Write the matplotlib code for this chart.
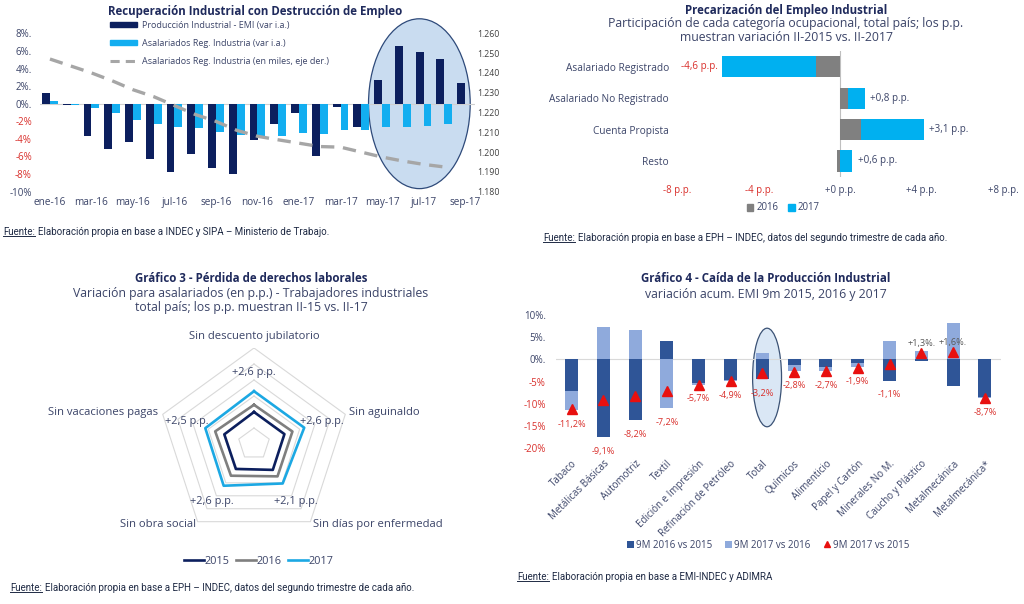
import matplotlib.pyplot as plt
from matplotlib.patches import Ellipse, Patch
from matplotlib.lines import Line2D
from matplotlib.transforms import IdentityTransform
import numpy as np

plt.rcParams['font.family'] = ['Open Sans', 'DejaVu Sans']

W, H = 1024, 604
TITLE = '#1f2a5c'
TXT = '#3b4468'
RED = '#d9302c'

# ---- Grafico 1: EMI vs asalariados registrados
meses = ['ene-16', 'feb-16', 'mar-16', 'abr-16', 'may-16', 'jun-16', 'jul-16',
         'ago-16', 'sep-16', 'oct-16', 'nov-16', 'dic-16', 'ene-17', 'feb-17',
         'mar-17', 'abr-17', 'may-17', 'jun-17', 'jul-17', 'ago-17', 'sep-17']
emi_var = [1.2, -0.1, -3.7, -5.1, -4.4, -6.3, -7.8, -5.7, -7.3, -8.0, -4.1,
           -2.3, -1.1, -5.95, -0.4, -2.6, 2.7, 6.6, 5.9, 5.1, 2.3]
asal_var = [0.3, -0.2, -0.45, -1.1, -1.8, -2.3, -2.6, -2.8, -3.2, -3.6, -3.7,
            -3.7, -3.3, -3.4, -3.0, -3.0, -2.7, -2.6, -2.5, -2.3, np.nan]
asal_miles = [1.247, 1.2435, 1.240, 1.236, 1.2315, 1.228, 1.2235, 1.219, 1.2155,
              1.211, 1.208, 1.2062, 1.2045, 1.2028, 1.2025, 1.200, 1.1975,
              1.1955, 1.1938, 1.1925, np.nan]

# ---- Grafico 2: precarizacion
categorias_ocup = ['Asalariado Registrado', 'Asalariado No Registrado',
                   'Cuenta Propista', 'Resto']
pp_2016 = [-1.2, 0.4, 1.0, -0.15]
pp_2017 = [-4.6, 0.8, 3.1, 0.6]

# ---- Grafico 3: derechos laborales
derechos = ['Sin descuento jubilatorio', 'Sin aguinaldo', 'Sin días por enfermedad',
            'Sin obra social', 'Sin vacaciones pagas']
der_2015 = [4.0, 4.0, 4.0, 3.85, 3.9]
der_2016 = [4.9, 5.05, 5.0, 4.9, 5.1]
der_2017 = [6.6, 6.6, 6.1, 6.45, 6.4]

# ---- Grafico 4: produccion industrial
ramas = ['Tabaco', 'Metálicas Básicas', 'Automotriz', 'Textil', 'Edición e Impresión',
         'Refinación de Petróleo', 'Total', 'Químicos', 'Alimenticio', 'Papel y Cartón',
         'Minerales No M.', 'Caucho y Plástico', 'Metalmecánica', 'Metalmecánica*']
emi_16_15 = [-7.2, -17.4, -13.6, 4.1, -5.4, -4.7, -4.5, -1.2, -1.7, -0.75, -4.8, -0.45, -6.0, -8.4]
emi_17_16 = [-4.2, 7.2, 6.5, -10.9, -0.3, -0.2, 1.5, -1.5, -1.0, -0.95, 4.0, 1.8, 8.2, -0.3]
emi_17_15 = [-11.2, -9.1, -8.2, -7.2, -5.7, -4.9, -3.2, -2.8, -2.7, -1.9, -1.1, 1.3, 1.6, -8.7]

fig = plt.figure(figsize=(W / 100, H / 100), dpi=100)
bg = fig.add_axes([0, 0, 1, 1])
bg.axis('off')


def px_box(x0, y0, x1, y1):
    return [x0 / W, 1 - y1 / H, (x1 - x0) / W, (y1 - y0) / H]


def px(x, y):
    return x / W, 1 - y / H


def clean(ax):
    for s in ax.spines.values():
        s.set_visible(False)
    ax.tick_params(length=0, colors=TXT)


def title(x, y, lines, gap=14.5):
    fig.text(*px(x, y), lines[0], ha='center', va='center', fontsize=8.3,
             fontweight='bold', color=TITLE)
    for i, ln in enumerate(lines[1:]):
        fig.text(*px(x, y + gap * (i + 1)), ln, ha='center', va='center',
                 fontsize=8.8, color=TXT)


fuentes = []


def fuente(x, y, texto):
    t = fig.text(*px(x, y), 'Fuente:', ha='left', va='center', fontsize=7.0,
                 family='Roboto', color='#1f2a44')
    bg.annotate(texto, xy=(1, 0), xycoords=t, xytext=(2.5, 0), textcoords='offset points',
                ha='left', va='bottom', fontsize=7.0, family='Roboto', color='#1f2a44')
    fuentes.append(t)


# ================= Grafico 1
ax1 = fig.add_axes(px_box(39.6, 33.3, 475.4, 191.7))
ax1.set_facecolor('none')
clean(ax1)
xm = np.arange(len(meses))
ax1.add_patch(Ellipse((17.8, 0.0), 4.9, 19.3, facecolor='#c9dcf0', edgecolor='#2e4a7a',
                      lw=0.9, clip_on=False, zorder=0))
ax1.axhline(0, color='#d0d0d0', lw=0.8, zorder=1)
ax1.bar(xm - 0.19, emi_var, 0.38, color='#0c1f5e', zorder=2)
ax1.bar(xm + 0.19, asal_var, 0.38, color='#13aef0', zorder=2)
ax1.set_xlim(-0.5, len(meses) - 0.5)
ax1.set_ylim(-10, 8)
ax1.set_yticks(range(-10, 9, 2))
ax1.set_yticklabels([f'{v}%' if v < 0 else f'{v}%.' for v in range(-10, 9, 2)])
for v, lab in zip(range(-10, 9, 2), ax1.get_yticklabels()):
    lab.set_color(RED if -10 < v < 0 else TXT)
ax1.set_xticks(xm[::2])
ax1.set_xticklabels(meses[::2])
ax1.tick_params(axis='x', pad=4, labelsize=7.2)
ax1.tick_params(axis='y', pad=5.5, labelsize=7.0)

ax1r = ax1.twinx()
clean(ax1r)
ax1r.plot(xm, asal_miles, color='#a6a6a6', lw=2.4, dashes=(4, 2.6), zorder=3)
ax1r.set_ylim(1.18, 1.26)
ax1r.set_yticks(np.arange(1.18, 1.2601, 0.01))
ax1r.set_yticklabels([f'{v:.3f}' for v in np.arange(1.18, 1.2601, 0.01)])
ax1r.tick_params(axis='y', pad=1.5, labelsize=6.3, colors='#404040')

fig.text(*px(255, 12), 'Recuperación Industrial con Destrucción de Empleo', ha='center',
         va='center', fontsize=8.3, fontweight='bold', color=TITLE)
fig.legend(handles=[Patch(color='#0c1f5e'), Patch(color='#13aef0'),
                    Line2D([], [], color='#a6a6a6', lw=2.2, dashes=(3, 2))],
           labels=['Producción Industrial - EMI (var i.a.)',
                   'Asalariados Reg. Industria (var i.a.)',
                   'Asalariados Reg. Industria (en miles, eje der.)'],
           loc='upper left', bbox_to_anchor=px(110, 21), frameon=False, fontsize=6.5,
           handlelength=3.0, handleheight=0.45, labelspacing=1.0, handletextpad=0.5,
           borderpad=0, borderaxespad=0, labelcolor=TXT)
fuente(3, 232, 'Elaboración propia en base a INDEC y SIPA – Ministerio de Trabajo.')

# ================= Grafico 2
ax2 = fig.add_axes(px_box(677.4, 51, 1003, 176.7))
ax2.set_facecolor('none')
clean(ax2)
y2 = np.arange(len(categorias_ocup))
ax2.axvline(0, color='#bfbfbf', lw=0.8, zorder=1)
ax2.barh(y2, pp_2016, 0.67, color='#808080', zorder=2)
left17 = [a if a * b > 0 else 0 for a, b in zip(pp_2016, pp_2017)]
ax2.barh(y2, pp_2017, 0.67, left=left17, color='#00b0f0', zorder=2)
for yy, l, v in zip(y2, left17, pp_2017):
    lab = f'{v:+.1f}'.replace('.', ',') + ' p.p.'
    ax2.annotate(lab, xy=(l + v, yy), xytext=(-3 if v < 0 else 4, 0),
                 textcoords='offset points', ha='right' if v < 0 else 'left',
                 va='center', fontsize=7.1, color=RED if v < 0 else TXT)
ax2.set_xlim(-8, 8)
ax2.set_ylim(3.5, -0.5)
ax2.set_yticks(y2)
ax2.set_yticklabels(categorias_ocup)
ax2.set_xticks([-8, -4, 0, 4, 8])
ax2.set_xticklabels([f'{v:+d} p.p.' for v in [-8, -4, 0, 4, 8]])
for v, lab in zip([-8, -4, 0, 4, 8], ax2.get_xticklabels()):
    lab.set_color(RED if v < 0 else TXT)
ax2.tick_params(axis='x', pad=6, labelsize=6.9)
ax2.tick_params(axis='y', pad=6, labelsize=7.3)
title(786, 10.5, ['Precarización del Empleo Industrial',
                  'Participación de cada categoría ocupacional, total país; los p.p.',
                  'muestran variación II-2015 vs. II-2017'], gap=13.4)
fig.legend(handles=[Patch(color='#808080'), Patch(color='#00b0f0')], labels=['2016', '2017'],
           loc='center', bbox_to_anchor=px(783, 208), ncol=2, frameon=False, fontsize=6.9,
           handlelength=0.7, handleheight=0.7, handletextpad=0.3, columnspacing=1.0,
           labelcolor=TXT)
fuente(543, 238, 'Elaboración propia en base a EPH – INDEC, datos del segundo trimestre de cada año.')

# ================= Grafico 3 (radar)
ax3 = fig.add_axes(px_box(158, 348, 350, 540))
ax3.axis('off')
ax3.set_xlim(-12, 12)
ax3.set_ylim(-12, 12)
th = np.arange(len(derechos)) * 2 * np.pi / len(derechos)


def polar_xy(vals):
    r = np.append(vals, vals[0])
    t = np.append(th, th[0])
    return r * np.sin(t), r * np.cos(t)


for r in range(2, 13, 2):
    ax3.plot(*polar_xy(np.full(len(derechos), r)), color='#d9d9d9', lw=0.8, zorder=1)
for vals, col, yr in [(der_2015, '#0c1f5e', '2015'), (der_2016, '#7f7f7f', '2016'),
                      (der_2017, '#1ca8e3', '2017')]:
    ax3.plot(*polar_xy(vals), color=col, lw=1.9, label=yr, zorder=2)
for t, a, b in zip(th, der_2015, der_2017):
    ax3.text(8.9 * np.sin(t), 8.9 * np.cos(t), f'+{b - a:.1f}'.replace('.', ',') + ' p.p.',
             ha='center', va='center', fontsize=7.9, color=TXT, clip_on=False)
offs = [(0, 8, 'center'), (3, 1.5, 'left'), (2, -2, 'left'), (-1, -2, 'right'), (-3, 1.5, 'right')]
for t, name, (dx, dy, ha) in zip(th, derechos, offs):
    ax3.annotate(name, xy=(12 * np.sin(t), 12 * np.cos(t)), xytext=(dx, dy),
                 textcoords='offset points', ha=ha, va='center', fontsize=8.1, color=TXT)
title(251, 278.5, ['Gráfico 3 - Pérdida de derechos laborales',
                   'Variación para asalariados (en p.p.) - Trabajadores industriales',
                   'total país; los p.p. muestran II-15 vs. II-17'], gap=14.5)
fig.legend(*ax3.get_legend_handles_labels(), loc='center', bbox_to_anchor=px(259, 561),
           ncol=3, frameon=False, fontsize=7.8, handlelength=1.8, handletextpad=0.1,
           columnspacing=0.6, labelcolor=TXT)
fuente(10, 588, 'Elaboración propia en base a EPH – INDEC, datos del segundo trimestre de cada año.')

# ================= Grafico 4
ax4 = fig.add_axes(px_box(555.6, 314.6, 1000.8, 448.4))
ax4.set_facecolor('none')
clean(ax4)
xr = np.arange(len(ramas))
ax4.add_patch(Ellipse((6.15, -4.1), 0.91, 22.1, facecolor='#dae7f5', edgecolor='#3b5275',
                      lw=0.9, zorder=0))
ax4.axhline(0, color='#d9d9d9', lw=0.8, zorder=1)
b16 = ax4.bar(xr, emi_16_15, 0.41, color='#2f5597', zorder=2)
bot17 = [a if a * b > 0 else 0 for a, b in zip(emi_16_15, emi_17_16)]
b17 = ax4.bar(xr, emi_17_16, 0.41, bottom=bot17, color='#8faadc', zorder=2)
tri, = ax4.plot(xr, emi_17_15, ls='none', marker='^', ms=7, color='#e8100f', zorder=3)
for xx, v, a, b, lo in zip(xr, emi_17_15, emi_16_15, emi_17_16, bot17):
    if v < 0:
        low = min(v, a, lo + b)
        ax4.annotate(f'{v:.1f}%'.replace('.', ','), xy=(xx, low), xytext=(0, -7),
                     textcoords='offset points', ha='center', va='top', fontsize=6.6,
                     color=RED)
    else:
        ax4.annotate(f'+{v:.1f}%.'.replace('.', ',', 1), xy=(xx, v), xytext=(0, 7),
                     textcoords='offset points', ha='center', va='center', fontsize=6.6,
                     color='#595959')
ax4.set_xlim(-0.5, len(ramas) - 0.5)
ax4.set_ylim(-20, 10)
ax4.set_yticks(range(-20, 11, 5))
ax4.set_yticklabels([f'{v}%' if v < 0 else f'{v}%.' for v in range(-20, 11, 5)])
for v, lab in zip(range(-20, 11, 5), ax4.get_yticklabels()):
    lab.set_color(RED if v < 0 else TXT)
ax4.set_xticks(xr)
ax4.set_xticklabels(ramas, rotation=45, ha='right', va='top', rotation_mode='anchor')
ax4.tick_params(axis='x', pad=7, labelsize=7.0)
ax4.tick_params(axis='y', pad=7, labelsize=7.0)
title(766, 279, ['Gráfico 4 - Caída de la Producción Industrial',
                 'variación acum. EMI 9m 2015, 2016 y 2017'], gap=15.5)
fig.legend([b16, b17, tri], ['9M 2016 vs 2015', '9M 2017 vs 2016', '9M 2017 vs 2015'],
           loc='center', bbox_to_anchor=px(768, 545), ncol=3, frameon=False,
           fontsize=7, handlelength=0.7, handleheight=0.7, handletextpad=0.2,
           columnspacing=1.4, labelcolor=TXT, markerscale=0.6)
fuente(517, 577, 'Elaboración propia en base a EMI-INDEC y ADIMRA')

# subrayado de "Fuente:"
fig.canvas.draw()
for t in fuentes:
    bb = t.get_window_extent()
    fig.add_artist(Line2D([bb.x0, bb.x1], [bb.y0 + 1.5, bb.y0 + 1.5], transform=IdentityTransform(),
                          color='#1f2a44', lw=0.7))

fig.savefig('out.png', dpi=100)
